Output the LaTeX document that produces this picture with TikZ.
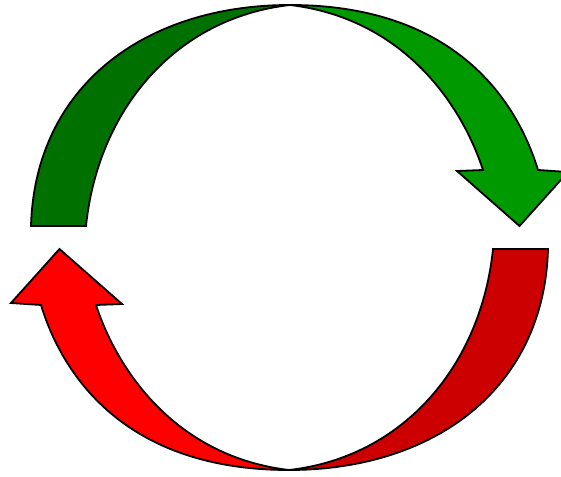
\documentclass[tikz,border=0pt]{standalone}
\begin{document}
\begin{tikzpicture}[x=1pt,y=-1pt,
  band/.style={draw=black,line width=1.8pt,line join=miter}]
\definecolor{gdark}{RGB}{0,112,0}
\definecolor{glight}{RGB}{0,153,0}
\definecolor{rdark}{RGB}{204,0,0}
\definecolor{rlight}{RGB}{255,0,0}
\useasboundingbox (0,0) rectangle (561,476);
\clip (0,0) rectangle (561,476);
\foreach \ang/\ca/\cb in {0/gdark/glight,180/rdark/rlight}{
 \begin{scope}[rotate around={\ang:(289.5,237.5)}]
  \path[band,fill=\ca] (31,226) .. controls (35,86) and (145,5) .. (290,5)
     .. controls (175,18) and (98,110) .. (86,226) -- cycle;
  \path[band,fill=\cb] (290,5) .. controls (450,5) and (515,95) .. (538,170)
     -- (568,172) -- (519.5,226) -- (457,171) -- (483,170)
     .. controls (460,100) and (400,18) .. (290,5) -- cycle;
 \end{scope}
}
\end{tikzpicture}
\end{document}
